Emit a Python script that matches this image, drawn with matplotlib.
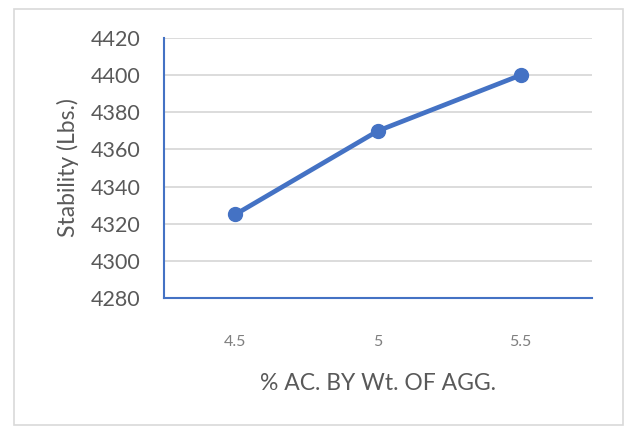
import matplotlib
matplotlib.use("Agg")
import matplotlib.pyplot as plt
from matplotlib.patches import Rectangle

# Asphalt content vs. Marshall stability
categories = ["4.5", "5", "5.5"]
stability = [4325, 4370, 4400]
y_ticks = [4280, 4300, 4320, 4340, 4360, 4380, 4400, 4420]

blue = "#4472C4"
plt.rcParams["font.family"] = ["Lato", "DejaVu Sans"]

fig = plt.figure(figsize=(6.26, 4.30), dpi=100)
W, H = 626, 430

# chart frame
fig.patches.append(Rectangle((14 / W, 5 / H), 609 / W, 416 / H, transform=fig.transFigure,
                             fill=False, edgecolor="#d9d9d9", linewidth=1.2))

ax = fig.add_axes([164 / W, 1 - 298 / H, (592 - 164) / W, (298 - 38) / H])
x = list(range(len(categories)))
ax.plot(x, stability, color=blue, linewidth=3.4, marker="o", markersize=10,
        solid_capstyle="round", zorder=3)

ax.set_xlim(-0.5, len(categories) - 0.5)
ax.set_ylim(y_ticks[0], y_ticks[-1])
ax.set_yticks(y_ticks)
ax.set_xticks(x)
ax.set_xticklabels(categories)
ax.grid(axis="y", color="#d9d9d9", linewidth=1.3)
ax.set_axisbelow(True)

for s in ["top", "right"]:
    ax.spines[s].set_visible(False)
for s in ["left", "bottom"]:
    ax.spines[s].set_color(blue)
    ax.spines[s].set_linewidth(1.5)

ax.tick_params(axis="y", length=0, pad=17, labelsize=15.5, labelcolor="#595959")
ax.tick_params(axis="x", length=0, pad=27, labelsize=11.5, labelcolor="#7f7f7f")

ax.set_ylabel("Stability (Lbs.)", fontsize=16.5, color="#595959", labelpad=8)
ax.set_xlabel("% AC. BY Wt. OF AGG.", fontsize=16.5, color="#595959", labelpad=17)

fig.savefig("out.png", dpi=100)
